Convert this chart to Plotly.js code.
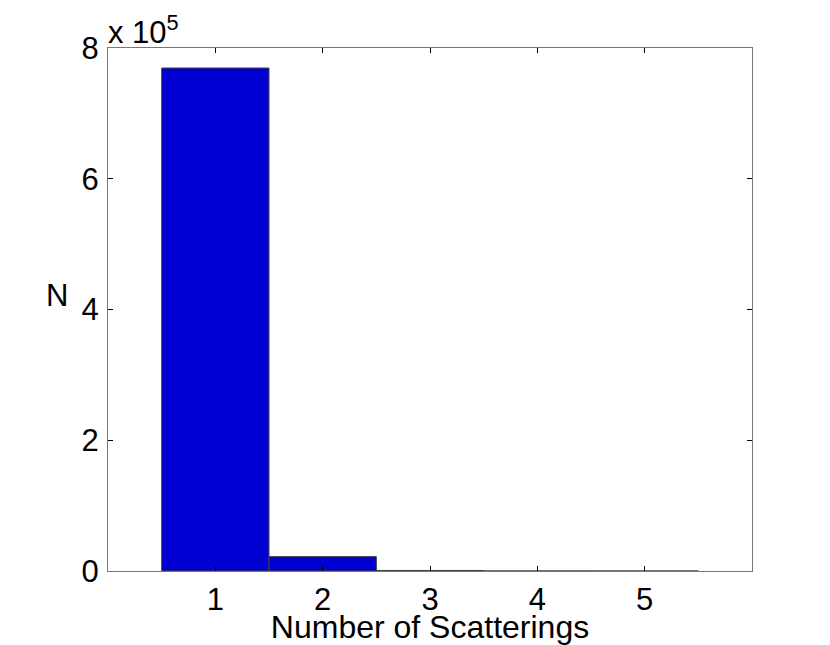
<!DOCTYPE html>
<html>
<head>
<meta charset="utf-8">
<script src="https://cdn.plot.ly/plotly-3.0.1.min.js"></script>
<style>html,body{margin:0;padding:0;background:#fff;}#chart{width:830px;height:645px;}</style>
</head>
<body>
<div id="chart"></div>
<script>
const scatterings = [1, 2, 3, 4, 5];
const counts = [769400, 22000, 800, 40, 5];
const yTickVals = [0, 200000, 400000, 600000, 800000];
const yTickText = ['0', '2', '4', '6', '8'];
const xTickVals = [1, 2, 3, 4, 5];

const font = {family: 'Liberation Sans, Arial, sans-serif', size: 31, color: '#000'};
const titleFont = {family: 'Liberation Sans, Arial, sans-serif', size: 32, color: '#000'};

Plotly.newPlot('chart', [{
  type: 'bar',
  x: scatterings,
  y: counts,
  width: 1,
  marker: {color: '#0000d2', line: {color: '#444', width: 1}},
  hoverinfo: 'x+y'
}], {
  width: 830, height: 645,
  margin: {l: 108, r: 78, t: 48, b: 74},
  paper_bgcolor: '#fff', plot_bgcolor: '#fff',
  font: font,
  showlegend: false,
  xaxis: {
    range: [0, 6], tickvals: xTickVals, ticktext: xTickVals.map(String),
    ticks: 'inside', ticklen: 5, tickcolor: '#000', showgrid: false, zeroline: false,
    showline: true, mirror: 'ticks', linecolor: '#777', linewidth: 1,
    tickfont: font, ticklabelstandoff: 1,
    title: {text: 'Number of Scatterings', font: titleFont, standoff: 0}
  },
  yaxis: {
    range: [0, 800000], tickvals: yTickVals, ticktext: yTickText,
    ticks: 'inside', ticklen: 5, tickcolor: '#000', showgrid: false, zeroline: false,
    showline: true, mirror: 'ticks', linecolor: '#777', linewidth: 1,
    tickfont: font, ticklabelstandoff: 2
  },
  annotations: [{
    xref: 'paper', yref: 'paper', x: 0, y: 1, xanchor: 'left', yanchor: 'bottom',
    xshift: -2, yshift: -4,
    text: 'x 10<sup>5</sup>', showarrow: false, font: font
  }, {
    xref: 'paper', yref: 'paper', x: 0, y: 0.5, xanchor: 'right', yanchor: 'middle',
    xshift: -38, yshift: 14,
    text: 'N', showarrow: false, font: font
  }]
}, {displayModeBar: false, staticPlot: true});
</script>
</body>
</html>
